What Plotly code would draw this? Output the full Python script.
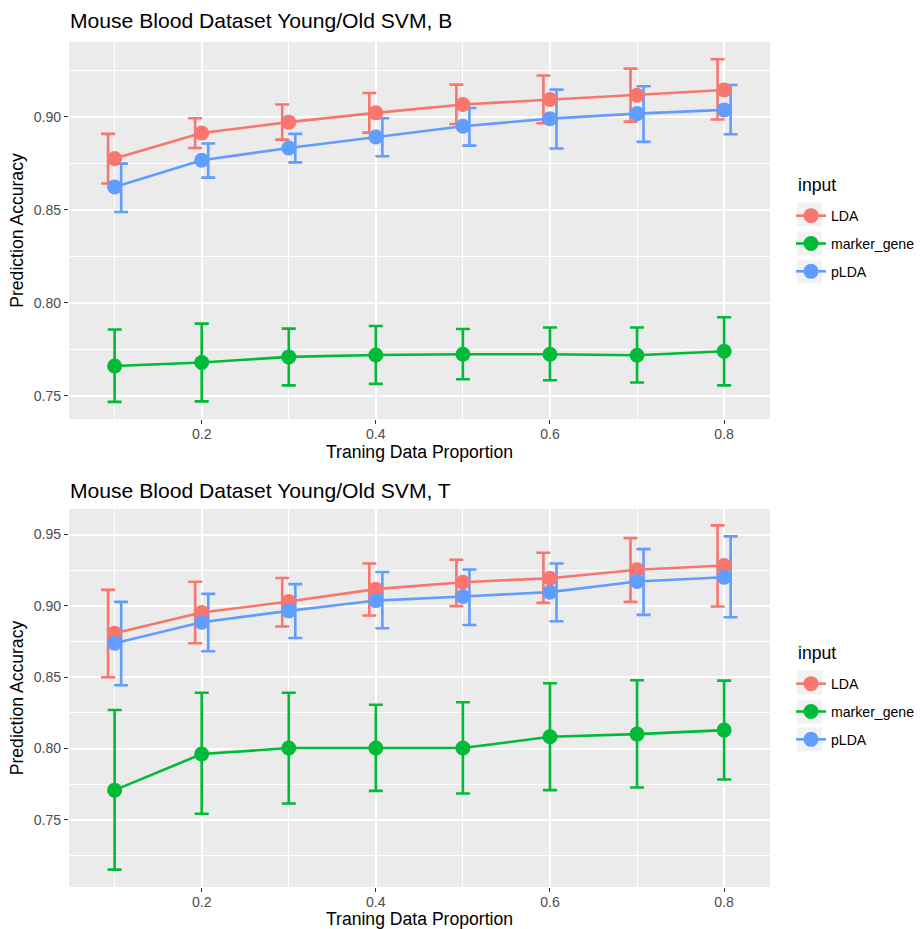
import plotly.graph_objects as go

W, H = 921, 929

# ---------------- data ----------------
train_prop = [0.1, 0.2, 0.3, 0.4, 0.5, 0.6, 0.7, 0.8]
methods = ["LDA", "marker_gene", "pLDA"]

# Panel B
b_lda_mean = [0.8776, 0.8914, 0.8972, 0.9022, 0.9067, 0.9094, 0.9117, 0.9145]
b_lda_low = [0.8642, 0.8833, 0.8878, 0.8916, 0.8962, 0.8966, 0.8975, 0.8986]
b_lda_high = [0.8909, 0.8993, 0.9067, 0.9129, 0.9174, 0.9223, 0.9260, 0.9310]

b_marker_mean = [0.7661, 0.7680, 0.7710, 0.7720, 0.7724, 0.7724, 0.7719, 0.7740]
b_marker_low = [0.7468, 0.7471, 0.7557, 0.7565, 0.7590, 0.7584, 0.7572, 0.7557]
b_marker_high = [0.7857, 0.7889, 0.7862, 0.7876, 0.7860, 0.7868, 0.7868, 0.7923]

b_plda_mean = [0.8624, 0.8767, 0.8833, 0.8892, 0.8950, 0.8991, 0.9018, 0.9038]
b_plda_low = [0.8489, 0.8674, 0.8756, 0.8789, 0.8846, 0.8830, 0.8866, 0.8907]
b_plda_high = [0.8749, 0.8857, 0.8909, 0.8993, 0.9048, 0.9147, 0.9165, 0.9172]

# Panel T
t_lda_mean = [0.8808, 0.8953, 0.9030, 0.9117, 0.9166, 0.9194, 0.9253, 0.9283]
t_lda_low = [0.8499, 0.8738, 0.8855, 0.8932, 0.8998, 0.9021, 0.9028, 0.8995]
t_lda_high = [0.9112, 0.9169, 0.9195, 0.9297, 0.9323, 0.9372, 0.9475, 0.9564]

t_marker_mean = [0.7708, 0.7961, 0.8003, 0.8003, 0.8003, 0.8082, 0.8101, 0.8129]
t_marker_low = [0.7151, 0.7542, 0.7614, 0.7703, 0.7685, 0.7708, 0.7727, 0.7783]
t_marker_high = [0.8270, 0.8391, 0.8391, 0.8307, 0.8324, 0.8457, 0.8478, 0.8476]

t_plda_mean = [0.8738, 0.8885, 0.8965, 0.9037, 0.9066, 0.9096, 0.9171, 0.9201]
t_plda_low = [0.8443, 0.8682, 0.8775, 0.8843, 0.8866, 0.8892, 0.8937, 0.8920]
t_plda_high = [0.9028, 0.9084, 0.9152, 0.9237, 0.9255, 0.9297, 0.9398, 0.9487]

x_ticks = [0.2, 0.4, 0.6, 0.8]
x_minor = [0.1, 0.3, 0.5, 0.7]
y_ticks_b = [0.75, 0.80, 0.85, 0.90]
y_minor_b = [0.775, 0.825, 0.875, 0.925]
y_ticks_t = [0.75, 0.80, 0.85, 0.90, 0.95]
y_minor_t = [0.725, 0.775, 0.825, 0.875, 0.925]

titles = ["Mouse Blood Dataset Young/Old SVM, B", "Mouse Blood Dataset Young/Old SVM, T"]
x_title = "Traning Data Proportion"
y_title = "Prediction Accuracy"
legend_title = "input"

panels = [
    {
        "LDA": (b_lda_mean, b_lda_low, b_lda_high),
        "marker_gene": (b_marker_mean, b_marker_low, b_marker_high),
        "pLDA": (b_plda_mean, b_plda_low, b_plda_high),
    },
    {
        "LDA": (t_lda_mean, t_lda_low, t_lda_high),
        "marker_gene": (t_marker_mean, t_marker_low, t_marker_high),
        "pLDA": (t_plda_mean, t_plda_low, t_plda_high),
    },
]

# ---------------- style ----------------
colors = {"LDA": "#F8766D", "marker_gene": "#00BA38", "pLDA": "#619CFF"}
dodge = {"LDA": -0.0075, "marker_gene": 0.0, "pLDA": 0.0075}
FONT = "Liberation Sans, Arial, Helvetica, sans-serif"
TICK_SIZE = 14.1
AXTITLE_SIZE = 17.6
TITLE_SIZE = 21.1


def px_x(p):
    return p / W


def px_y(p):
    return 1 - p / H


x_dom = [px_x(69), px_x(770)]
y_doms = [[px_y(419), px_y(42)], [px_y(887), px_y(509)]]
y_ranges = [[0.7376, 0.9403], [0.7029, 0.9679]]
x_range = [0.0476, 0.8527]
y_tick_sets = [(y_ticks_b, y_minor_b), (y_ticks_t, y_minor_t)]

fig = go.Figure()

for pi, pdata in enumerate(panels):
    xa = "x" if pi == 0 else "x2"
    ya = "y" if pi == 0 else "y2"
    leg = "legend" if pi == 0 else "legend2"
    # error bars first
    for m in methods:
        mean, low, high = pdata[m]
        fig.add_trace(go.Scatter(
            x=[v + dodge[m] for v in train_prop], y=mean,
            mode="markers", marker=dict(size=0.1, opacity=0, color=colors[m]),
            error_y=dict(type="data", symmetric=False,
                         array=[h - c for h, c in zip(high, mean)],
                         arrayminus=[c - l for c, l in zip(mean, low)],
                         color=colors[m], thickness=2.6, width=7),
            showlegend=False, hoverinfo="skip", xaxis=xa, yaxis=ya,
        ))
    for m in methods:
        mean, low, high = pdata[m]
        fig.add_trace(go.Scatter(
            x=train_prop, y=mean, name=m, mode="lines+markers",
            line=dict(color=colors[m], width=2.6),
            marker=dict(color=colors[m], size=15),
            legend=leg, legendgroup=f"{pi}_{m}",
            xaxis=xa, yaxis=ya,
        ))

axis_common = dict(
    showline=False, zeroline=False, gridcolor="white", gridwidth=2,
    ticks="outside", ticklen=4, tickwidth=1.4, tickcolor="#333333",
    tickfont=dict(family=FONT, size=TICK_SIZE, color="#4D4D4D"),
)

layout = dict(
    width=W, height=H, margin=dict(l=0, r=0, t=0, b=0),
    paper_bgcolor="white", plot_bgcolor="#EBEBEB",
    font=dict(family=FONT, color="black"),
    showlegend=True,
)

for pi in range(2):
    sx = "" if pi == 0 else "2"
    yt, ym = y_tick_sets[pi]
    layout["xaxis" + sx] = dict(
        axis_common, domain=x_dom, range=x_range, anchor="y" + sx,
        tickvals=x_ticks, ticktext=[f"{v:.1f}" for v in x_ticks],
        ticklabelstandoff=-2,
        minor=dict(tickvals=x_minor, showgrid=True, gridcolor="white", gridwidth=1.1, ticks=""),
        title=dict(text=x_title, font=dict(family=FONT, size=AXTITLE_SIZE, color="black"), standoff=4),
        automargin=False,
    )
    layout["yaxis" + sx] = dict(
        axis_common, domain=y_doms[pi], range=y_ranges[pi], anchor="x" + sx,
        tickvals=yt, ticktext=[f"{v:.2f}" for v in yt],
        minor=dict(tickvals=ym, showgrid=True, gridcolor="white", gridwidth=1.1, ticks=""),
        title=dict(text=y_title, font=dict(family=FONT, size=AXTITLE_SIZE, color="black"), standoff=5),
        automargin=False,
    )

legend_common = dict(
    bgcolor="rgba(0,0,0,0)", borderwidth=0, xanchor="left", yanchor="top",
    font=dict(family=FONT, size=TICK_SIZE, color="black"),
    tracegroupgap=6.5, traceorder="grouped", itemsizing="trace",
)
layout["legend"] = dict(legend_common, x=px_x(791), y=px_y(200))
layout["legend2"] = dict(legend_common, x=px_x(791), y=px_y(668))

annotations = []
for pi, ty in enumerate([20, 490]):
    annotations.append(dict(
        text=titles[pi], x=px_x(68), y=px_y(ty), xref="paper", yref="paper",
        xanchor="left", yanchor="middle", showarrow=False,
        font=dict(family=FONT, size=TITLE_SIZE, color="black"),
    ))
for ly in [185, 653]:
    annotations.append(dict(
        text=legend_title, x=px_x(796), y=px_y(ly), xref="paper", yref="paper",
        xanchor="left", yanchor="middle", showarrow=False,
        font=dict(family=FONT, size=AXTITLE_SIZE, color="black"),
    ))
layout["annotations"] = annotations

# grey legend key backgrounds
shapes = []
for base in [0, 468]:
    for cy in [214.7, 243.5, 271.5]:
        c = cy + base
        shapes.append(dict(
            type="rect", xref="paper", yref="paper",
            x0=px_x(797), x1=px_x(822), y0=px_y(c + 12), y1=px_y(c - 12),
            fillcolor="#F2F2F2", line=dict(width=0), layer="below",
        ))
layout["shapes"] = shapes

fig.update_layout(**layout)
fig.write_html("out.html")
